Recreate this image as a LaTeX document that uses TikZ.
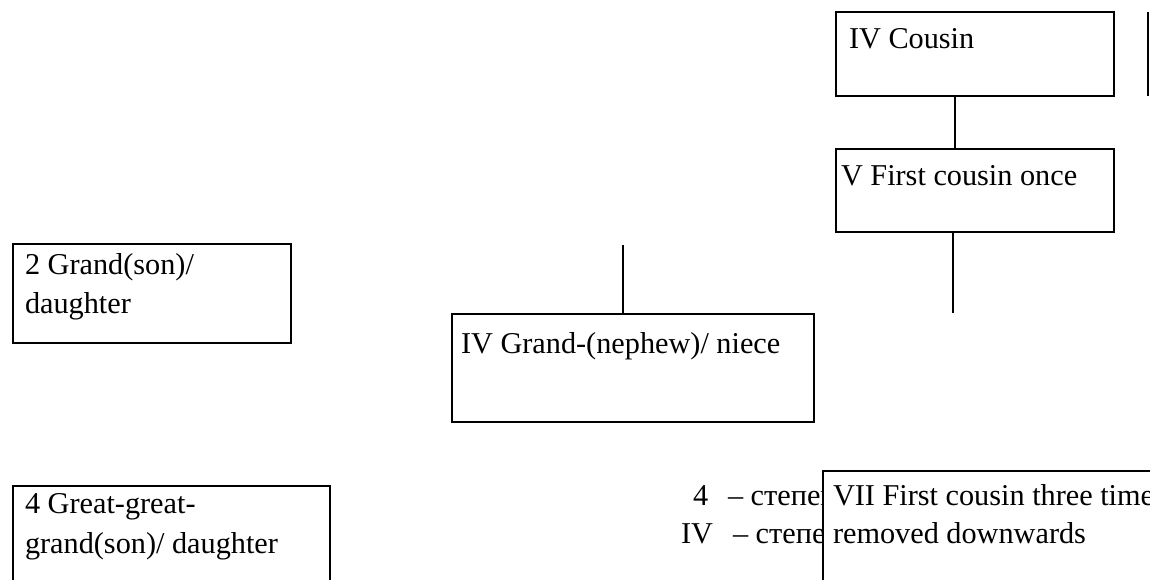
\documentclass[tikz,border=0pt]{standalone}
\usepackage{fontspec}
\setmainfont{Liberation Serif}
\begin{document}
\begin{tikzpicture}[x=0.75pt,y=-0.75pt,
  box/.style={draw,line width=0.9pt,fill=white,inner sep=0pt,outer sep=0pt,anchor=north west},
  lbl/.style={anchor=base west,inner sep=0pt,outer sep=0pt,font=\fontsize{22.7pt}{28pt}\selectfont},
  conn/.style={line width=0.9pt}]
\useasboundingbox (0,0) rectangle (1150,579);
% text lying behind the last box
\node[lbl] (d4) at (693,505) {4};
\node[lbl] (d4t) at (728,505) {– степень};
\node[lbl] (dIV) at (681,543) {IV};
\node[lbl] (dIVt) at (733,543) {– степень};
% boxes
\node[box, minimum width=278*0.75pt, minimum height=84*0.75pt] (cousin) at (836,12) {};
\node[box, minimum width=278*0.75pt, minimum height=83*0.75pt] (first) at (836,149) {};
\node[box, minimum width=278*0.75pt, minimum height=99*0.75pt] (grand) at (13,244) {};
\node[box, minimum width=362*0.75pt, minimum height=108*0.75pt] (nephew) at (452,314) {};
\node[box, minimum width=317*0.75pt, minimum height=130*0.75pt] (great) at (13,486) {};
\node[box, minimum width=400*0.75pt, minimum height=150*0.75pt] (vii) at (823,471) {};
% texts
\node[lbl] (tcousin) at (849,48) {IV Cousin};
\node[lbl] (tfirst) at (841,185) {V First cousin once};
\node[lbl] (tgrand1) at (25,274) {2 Grand(son)/};
\node[lbl] (tgrand2) at (25,313) {daughter};
\node[lbl] (tnephew) at (461,353) {IV Grand-(nephew)/ niece};
\node[lbl] (tgreat1) at (25,513) {4 Great-great-};
\node[lbl] (tgreat2) at (25,553) {grand(son)/ daughter};
\node[lbl] (tvii1) at (833,505) {VII First cousin three times};
\node[lbl] (tvii2) at (833,543) {removed downwards};
% connectors
\coordinate (ca) at (955,0);
\draw[conn] (cousin.south -| ca) -- (first.north -| ca);
\coordinate (fe) at (953,313);
\draw[conn] (first.south -| fe) -- (fe);
\coordinate (ne) at (623,245);
\draw[conn] (ne) -- (nephew.north -| ne);
\coordinate (rt) at (1148,12);
\coordinate (rb) at (1148,96);
\draw[conn] (rt) -- (rb);
\end{tikzpicture}
\end{document}
